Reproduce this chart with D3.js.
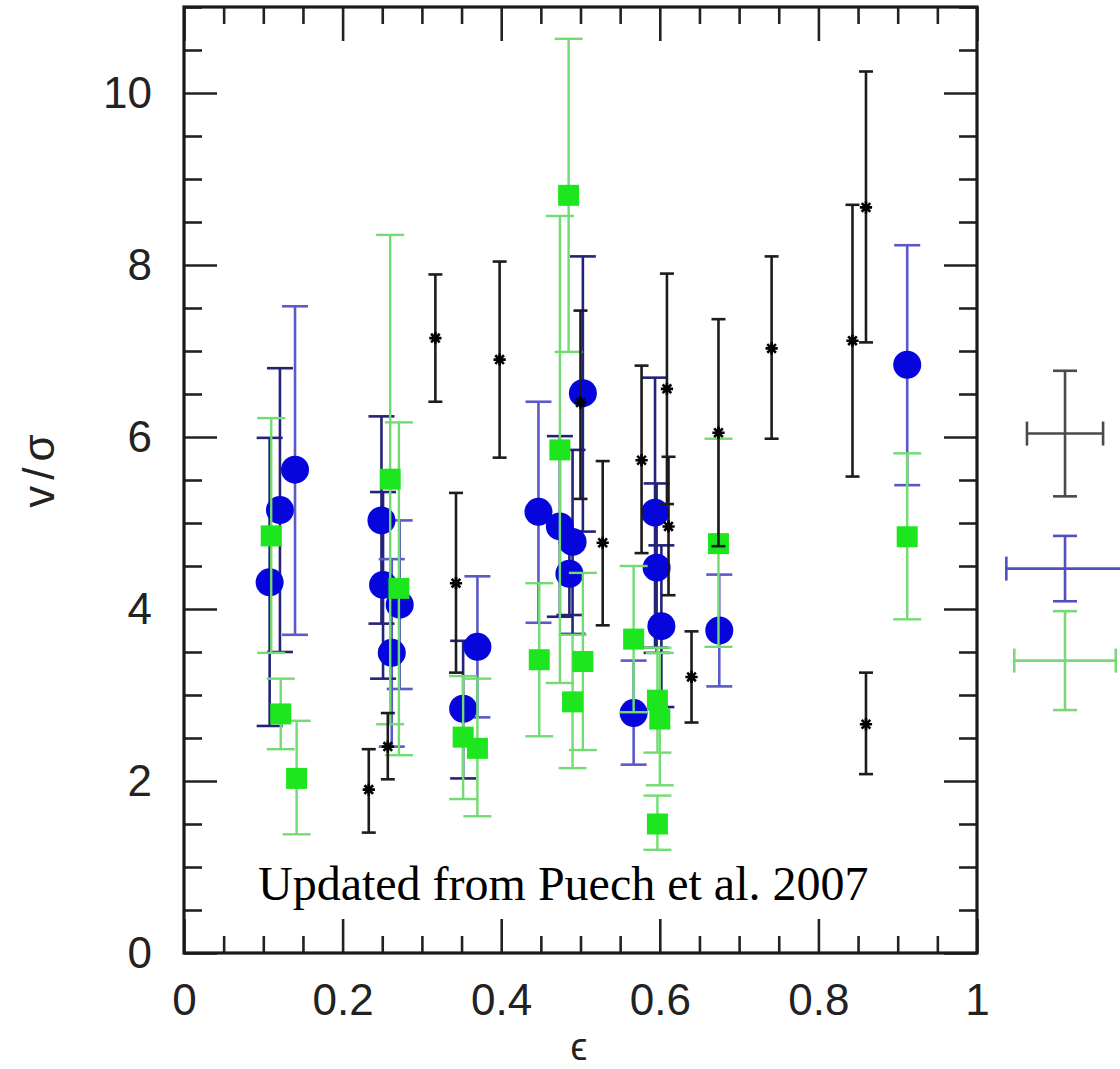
<!DOCTYPE html>
<html><head><meta charset="utf-8">
<script src="https://cdn.jsdelivr.net/npm/d3@7"></script>
<style>
html,body{margin:0;padding:0;background:#fff;}
svg{display:block;overflow:visible;}
</style></head>
<body>
<svg id="c" width="1120" height="1069"></svg>
<script>
// ---- data ----
// black stars
const starX  = [0.233,0.257,0.317,0.343,0.398,0.500,0.528,0.577,0.609,0.611,0.640,0.674,0.741,0.843,0.860,0.860];
const starY  = [1.90,2.40,7.15,4.30,6.90,6.40,4.77,5.73,6.56,4.96,3.21,6.05,7.03,7.12,8.67,2.66];
const starLo = [1.40,2.02,6.41,3.26,5.76,5.28,3.81,4.65,5.22,4.16,2.68,4.73,5.98,5.54,7.10,2.08];
const starHi = [2.37,2.79,7.89,5.35,8.04,7.47,5.72,6.83,7.90,5.77,3.74,7.37,8.10,8.70,10.25,3.26];
// blue circles
const circX  = [0.108,0.121,0.140,0.249,0.251,0.262,0.272,0.352,0.370,0.447,0.474,0.490,0.486,0.503,0.567,0.594,0.596,0.602,0.675,0.912];
const circY  = [4.31,5.15,5.62,5.03,4.28,3.49,4.05,2.84,3.56,5.13,4.96,4.78,4.41,6.51,2.79,5.12,4.48,3.80,3.75,6.84];
const circLo = [2.64,3.50,3.70,3.83,3.19,2.40,3.07,2.03,2.74,3.84,3.91,3.71,3.93,4.90,2.19,3.55,3.49,2.86,3.10,5.44];
const circHi = [5.99,6.80,7.52,6.24,5.36,4.58,5.03,3.63,4.38,6.41,6.01,5.85,4.90,8.10,3.40,6.69,5.46,4.74,4.40,8.23];
const circDarkBar = [true,true,false,true,true,false,false,true,false,false,true,true,true,true,false,true,true,true,false,false];
// green squares
const sqX  = [0.110,0.122,0.142,0.260,0.271,0.352,0.370,0.448,0.474,0.485,0.490,0.503,0.567,0.597,0.600,0.597,0.674,0.912];
const sqY  = [4.85,2.78,2.03,5.51,4.24,2.51,2.38,3.41,5.85,8.81,2.92,3.39,3.65,2.94,2.72,1.50,4.76,4.84];
const sqLo = [3.49,2.37,1.38,2.66,2.30,1.79,1.59,2.52,3.14,6.99,2.15,2.36,2.80,2.33,1.95,1.20,3.56,3.88];
const sqHi = [6.22,3.19,2.70,8.35,6.17,3.22,3.19,4.30,8.57,10.63,3.70,4.42,4.50,3.55,3.49,1.83,5.98,5.81];
// typical error crosses (black, blue, green) drawn right of the frame
const crossSeries = ["star","circ","sq"];
const crossX  = [1.111,1.111,1.111];
const crossY  = [6.04,4.47,3.40];
const crossDx = [0.048,0.074,0.064];
const crossDy = [0.73,0.38,0.575];
// axes
const xMajor = [0,0.2,0.4,0.6,0.8,1];
const xMinor = d3.range(0,1.0001,0.05).map(v=>+v.toFixed(2));
const yMajor = [0,2,4,6,8,10];
const yMinor = d3.range(0,11.0001,0.5);
const xTickLabels = ["0","0.2","0.4","0.6","0.8","1"];
const yTickLabels = ["0","2","4","6","8","10"];
const note = "Updated from Puech et al. 2007";

// ---- drawing ----
const svg = d3.select("#c");
const L=184,R=977,T=7,B=953;
const x = d3.scaleLinear().domain([0,1]).range([L,R]);
const y = d3.scaleLinear().domain([0,11]).range([B,T]);

const col = {
  star:{bar:"#1c1c1c", cap:7},
  circ:{bar:"#5a5ac8", dark:"#23237a", cap:13},
  sq:{bar:"#72dc72", cap:14}
};

function errBars(g, xs, ys, lo, hi, color, cap, w, colors){
  const d = xs.map((v,i)=>({x:v,y:ys[i],lo:lo[i],hi:hi[i],c:colors?colors[i]:color}));
  g.selectAll("line.v").data(d).join("line").attr("class","v")
    .attr("x1",d=>x(d.x)).attr("x2",d=>x(d.x)).attr("y1",d=>y(d.lo)).attr("y2",d=>y(d.hi))
    .attr("stroke",d=>d.c).attr("stroke-width",w);
  const caps=[];
  d.forEach(p=>{caps.push({x:p.x,v:p.lo,c:p.c});caps.push({x:p.x,v:p.hi,c:p.c});});
  g.selectAll("line.cap").data(caps).join("line").attr("class","cap")
    .attr("x1",d=>x(d.x)-cap).attr("x2",d=>x(d.x)+cap).attr("y1",d=>y(d.v)).attr("y2",d=>y(d.v))
    .attr("stroke",d=>d.c).attr("stroke-width",w);
}

// blue
const gb = svg.append("g");
errBars(gb, circX, circY, circLo, circHi, col.circ.bar, col.circ.cap, 2.6,
  circDarkBar.map(b=>b?col.circ.dark:col.circ.bar));
gb.selectAll("circle").data(circX.map((v,i)=>[v,circY[i]])).join("circle")
  .attr("cx",d=>x(d[0])).attr("cy",d=>y(d[1])).attr("r",14).attr("fill","#0505dc");

// green
const gg = svg.append("g");
errBars(gg, sqX, sqY, sqLo, sqHi, col.sq.bar, col.sq.cap, 2.4);
gg.selectAll("rect").data(sqX.map((v,i)=>[v,sqY[i]])).join("rect")
  .attr("x",d=>x(d[0])-10.5).attr("y",d=>y(d[1])-10.5).attr("width",21).attr("height",21)
  .attr("fill","#1ee61e");

// black
const gk = svg.append("g");
errBars(gk, starX, starY, starLo, starHi, col.star.bar, col.star.cap, 2.6);
const asterisk = {draw(ctx, size){
  const r = Math.sqrt(size)/2;
  for(let k=0;k<4;k++){
    const a = k*Math.PI/4;
    ctx.moveTo(r*Math.cos(a), r*Math.sin(a));
    ctx.lineTo(-r*Math.cos(a), -r*Math.sin(a));
  }
}};
const star = d3.symbol().type(asterisk).size(150);
gk.selectAll("path.s").data(starX.map((v,i)=>[v,starY[i]])).join("path").attr("class","s")
  .attr("d",star).attr("transform",d=>`translate(${x(d[0])},${y(d[1])})`)
  .attr("stroke","#000").attr("stroke-width",2.6).attr("fill","none");

// error crosses
const gc = svg.append("g");
const crossCol = {star:"#4a4a4a", circ:"#5050c0", sq:"#7ad87a"};
crossSeries.forEach((s,i)=>{
  const cx=x(crossX[i]), cy=y(crossY[i]);
  const x0=x(crossX[i]-crossDx[i]), x1=x(crossX[i]+crossDx[i]);
  const y0=y(crossY[i]-crossDy[i]), y1=y(crossY[i]+crossDy[i]);
  const c=crossCol[s], cap=12, w=2.6;
  const segs=[[x0,cy,x1,cy],[cx,y0,cx,y1],[x0,cy-cap,x0,cy+cap],[x1,cy-cap,x1,cy+cap],[cx-cap,y0,cx+cap,y0],[cx-cap,y1,cx+cap,y1]];
  gc.selectAll(null).data(segs).join("line")
    .attr("x1",d=>d[0]).attr("y1",d=>d[1]).attr("x2",d=>d[2]).attr("y2",d=>d[3])
    .attr("stroke",c).attr("stroke-width",w);
});

// axes
const fnt = "'Liberation Sans', Arial, sans-serif";
function styleAxis(g){
  g.select(".domain").remove();
  g.selectAll(".tick line").attr("stroke","#222").attr("stroke-width",2.6);
  g.selectAll(".tick text").attr("fill","#222").style("font-family",fnt).style("font-size","44px");
}
const isMajorX = v=>xMajor.some(m=>Math.abs(m-v)<1e-6);
const ax = svg.append("g");
ax.append("g").attr("transform",`translate(0,${B})`)
  .call(d3.axisBottom(x).tickValues(xMajor).tickSize(-34).tickPadding(31).tickFormat((d,i)=>xTickLabels[i])).call(styleAxis);
ax.append("g").attr("transform",`translate(0,${B})`)
  .call(d3.axisBottom(x).tickValues(xMinor.filter(v=>!isMajorX(v))).tickSize(-17).tickFormat("")).call(styleAxis);
ax.append("g").attr("transform",`translate(0,${T})`)
  .call(d3.axisTop(x).tickValues(xMajor).tickSize(-34).tickFormat("")).call(styleAxis);
ax.append("g").attr("transform",`translate(0,${T})`)
  .call(d3.axisTop(x).tickValues(xMinor.filter(v=>!isMajorX(v))).tickSize(-17).tickFormat("")).call(styleAxis);
ax.append("g").attr("transform",`translate(${L},0)`)
  .call(d3.axisLeft(y).tickValues(yMajor).tickSize(-33).tickPadding(32).tickFormat((d,i)=>yTickLabels[i])).call(styleAxis);
ax.append("g").attr("transform",`translate(${L},0)`)
  .call(d3.axisLeft(y).tickValues(yMinor.filter(v=>v%2!==0)).tickSize(-18).tickFormat("")).call(styleAxis);
ax.append("g").attr("transform",`translate(${R},0)`)
  .call(d3.axisRight(y).tickValues(yMajor).tickSize(-33).tickFormat("")).call(styleAxis);
ax.append("g").attr("transform",`translate(${R},0)`)
  .call(d3.axisRight(y).tickValues(yMinor.filter(v=>v%2!==0)).tickSize(-18).tickFormat("")).call(styleAxis);

svg.append("rect").attr("x",L).attr("y",T).attr("width",R-L).attr("height",B-T)
  .attr("fill","none").attr("stroke","#1a1a1a").attr("stroke-width",3.2);

// labels
svg.append("text").attr("transform","translate(54,468) rotate(-90)").attr("text-anchor","middle")
  .style("font-family",fnt).style("font-size","44px").attr("fill","#222").style("letter-spacing","6px")
  .text("v/σ");
svg.append("text").attr("x",579).attr("y",1060).attr("text-anchor","middle")
  .style("font-family",fnt).style("font-size","38px").attr("fill","#222").text("ϵ");
svg.append("text").attr("x",258).attr("y",900)
  .style("font-family","'Liberation Serif','Times New Roman',serif").style("font-size","48px").attr("fill","#000")
  .text(note);
</script>
</body></html>
